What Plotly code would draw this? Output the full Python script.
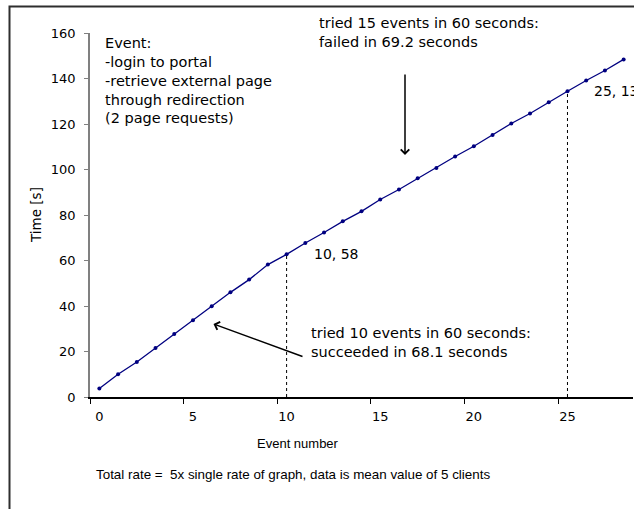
import plotly.graph_objects as go

# Elapsed time after each event (mean of 5 clients)
event_index = list(range(29))
time_s = [3.7, 10.0, 15.4, 21.5, 27.7, 33.7, 39.9, 46.0, 51.6, 58.2,
          62.7, 67.7, 72.3, 77.2, 81.6, 86.8, 91.2, 96.1, 100.7, 105.7,
          110.2, 115.2, 120.2, 124.6, 129.6, 134.4, 139.1, 143.5, 148.4]

x_tick_vals = [0, 5, 10, 15, 20, 25]
x_tick_text = ["0", "5", "10", "15", "20", "25"]
y_tick_vals = [0, 20, 40, 60, 80, 100, 120, 140, 160]

# events (counted from 1) whose "event, time" label is shown beside a drop line
marked_events = [10, 25]

W, H = 634, 509
L, R, T, B = 90, 1, 33, 112
PW, PH = W - L - R, H - T - B


def px(x):
    return (x - L) / PW


def py(y):
    return (H - B - y) / PH


NAVY = "#000080"
SPACED = "DejaVu Sans"
PLAIN = "Liberation Sans, Arial, sans-serif"

fig = go.Figure()
fig.add_trace(go.Scatter(
    x=event_index, y=time_s, mode="lines+markers",
    line=dict(color=NAVY, width=1.3),
    marker=dict(color=NAVY, size=4),
    showlegend=False, hoverinfo="skip",
))

shapes = []
annotations = []

for n in marked_events:
    shapes.append(dict(
        type="line", xref="x", yref="y",
        x0=event_index[n], x1=event_index[n], y0=0, y1=time_s[n],
        line=dict(color="black", width=1, dash="dot"),
    ))
    annotations.append(dict(
        xref="x", yref="y", x=event_index[n], y=time_s[n],
        text=f"{n}, {time_s[n - 1]:.0f}", showarrow=False,
        xanchor="left", yanchor="middle", xshift=25,
        font=dict(family=SPACED, size=14, color="black"),
    ))

# outer frame of the chart area
shapes.append(dict(
    type="rect", xref="paper", yref="paper",
    x0=px(9.5), x1=px(660), y0=py(530), y1=py(6.5),
    line=dict(color="#2e2e2e", width=2), fillcolor="rgba(0,0,0,0)",
))

text_blocks = [
    (103, 80, "Event:<br>-login to portal<br>-retrieve external page<br>through redirection<br>(2 page requests)"),
    (317, 32.2, "tried 15 events in 60 seconds:<br>failed in 69.2 seconds"),
    (309, 342.8, "tried 10 events in 60 seconds:<br>succeeded in 68.1 seconds"),
]
for x, y, txt in text_blocks:
    annotations.append(dict(
        xref="paper", yref="paper", x=px(x), y=py(y), text=txt,
        showarrow=False, xanchor="left", yanchor="middle", align="left",
        font=dict(family=SPACED, size=14.5, color="black"),
    ))

# arrows pointing at the curve
arrows = [
    (405, 155, 0, -82),
    (213.5, 324, 90.5, 33),
]
for hx, hy, ax, ay in arrows:
    annotations.append(dict(
        xref="paper", yref="paper", x=px(hx), y=py(hy), text="",
        showarrow=True, ax=ax, ay=ay, arrowhead=4, arrowsize=1.1,
        arrowwidth=1.5, arrowcolor="black",
    ))

# axis titles and caption
annotations.append(dict(
    xref="paper", yref="paper", x=px(298), y=py(443.5), text="Event number",
    showarrow=False, xanchor="center", yanchor="middle",
    font=dict(family=PLAIN, size=13, color="black"),
))
annotations.append(dict(
    xref="paper", yref="paper", x=px(36), y=py(215), text="Time [s]",
    showarrow=False, xanchor="center", yanchor="middle", textangle=-90,
    font=dict(family=SPACED, size=13.5, color="black"),
))
annotations.append(dict(
    xref="paper", yref="paper", x=px(293), y=py(475),
    text="Total rate =  5x single rate of graph, data is mean value of 5 clients",
    showarrow=False, xanchor="center", yanchor="middle",
    font=dict(family=PLAIN, size=13.4, color="black"),
))

fig.update_layout(
    width=W, height=H,
    margin=dict(l=L, r=R, t=T, b=B, pad=0),
    paper_bgcolor="white", plot_bgcolor="white",
    shapes=shapes, annotations=annotations,
    xaxis=dict(
        range=[-0.5, 28.5], tickvals=x_tick_vals, ticktext=x_tick_text,
        ticks="", showgrid=False, zeroline=False,
        showline=True, linecolor="black", linewidth=1.5,
        tickfont=dict(family=SPACED, size=13, color="black"),
        ticklabelstandoff=7,
        minor=dict(tickvals=[v - 0.5 for v in x_tick_vals], ticks="outside",
                   ticklen=5, tickcolor="black", tickwidth=1, showgrid=False),
    ),
    yaxis=dict(
        range=[0, 160], tickvals=y_tick_vals, ticks="outside", ticklen=4,
        tickcolor="#808080", tickwidth=1, showgrid=False, zeroline=False,
        showline=True, linecolor="#808080", linewidth=1.5,
        tickfont=dict(family=SPACED, size=13, color="black"),
        ticklabelstandoff=6,
    ),
)

fig.write_html("out.html")
